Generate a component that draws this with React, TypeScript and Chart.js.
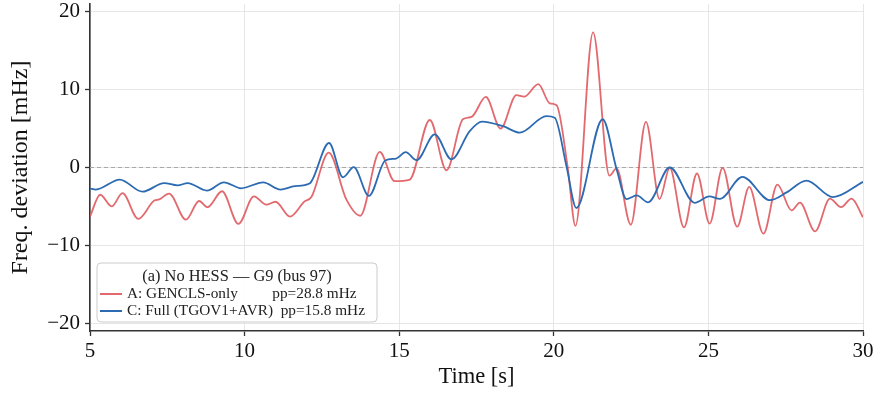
import React, { useEffect, useRef } from "react";
import { Chart, registerables } from "chart.js";

Chart.register(...registerables);

// ---- data ----
const timeA = [5.0, 5.33, 5.7, 6.05, 6.56, 7.08, 7.24, 7.56, 8.1, 8.53, 8.8, 9.27, 9.8, 10.3, 10.7, 11.0, 11.47, 11.94, 12.16, 12.72, 13.29, 13.74, 14.37, 14.85, 15.34, 15.99, 16.53, 17.06, 17.34, 17.8, 18.28, 18.79, 19.04, 19.5, 19.87, 20.09, 20.45, 20.7, 21.27, 21.8, 22.03, 22.49, 22.98, 23.42, 23.75, 24.21, 24.63, 25.04, 25.46, 25.93, 26.32, 26.78, 27.23, 27.69, 27.96, 28.45, 28.93, 29.29, 29.63, 30.0];
const freqA = [-6.3, -3.5, -5.0, -3.3, -6.6, -4.25, -4.1, -3.35, -6.7, -4.3, -5.1, -3.05, -7.25, -3.7, -4.77, -4.4, -6.3, -4.35, -3.8, 1.9, -4.1, -6.2, 2.0, -1.76, -1.55, 6.1, -0.35, 6.2, 6.5, 9.06, 5.0, 9.3, 9.1, 10.7, 8.25, 8.0, 0.0, -7.5, 17.35, -1.05, -0.1, -7.35, 5.85, -4.05, -0.04, -7.7, -0.77, -7.2, -0.04, -7.6, -2.5, -8.5, -2.2, -5.5, -4.5, -8.2, -4.0, -5.1, -4.0, -6.4];

const timeC = [5.0, 5.19, 5.96, 6.7, 7.4, 7.83, 8.16, 8.78, 9.33, 9.89, 10.6, 11.16, 11.62, 12.1, 12.73, 13.18, 13.53, 14.02, 14.55, 14.9, 15.21, 15.56, 16.15, 16.69, 17.28, 17.68, 18.36, 18.9, 19.76, 20.03, 20.41, 20.73, 21.58, 22.03, 22.35, 22.68, 23.05, 23.75, 24.56, 25.03, 25.37, 26.1, 26.99, 27.53, 28.17, 29.03, 30.0];
const freqC = [-2.7, -2.83, -1.55, -3.1, -2.0, -2.3, -2.0, -2.96, -1.9, -2.67, -1.9, -2.83, -2.4, -2.06, 3.15, -1.25, 0.05, -3.65, 0.9, 1.15, 1.97, 0.94, 4.25, 1.05, 4.68, 5.9, 5.3, 4.47, 6.6, 6.4, 0.17, -5.2, 6.2, -0.2, -4.05, -3.58, -4.47, 0.0, -4.55, -3.7, -4.04, -1.2, -4.2, -3.2, -1.68, -3.8, -1.85];

const zeroTimes = [5, 30];
const zeroValues = [0, 0];

const xTicks = [5, 10, 15, 20, 25, 30];
const yTicks = [-20, -10, 0, 10, 20];

const legendTitle = "(a) No HESS \u2014 G9 (bus 97)";
const labelA = "A: GENCLS-only         pp=28.8 mHz";
const labelC = "C: Full (TGOV1+AVR)  pp=15.8 mHz";

const RED = "rgba(224, 92, 98, 0.92)";
const BLUE = "#2c6bb2";
const FONT = "'Liberation Serif', 'Times New Roman', Times, serif";

const toPts = (xs: number[], ys: number[]) => xs.map((x, i) => ({ x, y: ys[i] }));

const legendPlugin = {
  id: "boxLegend",
  afterDraw(chart: any) {
    const { ctx, chartArea } = chart;
    const x = chartArea.left + 7;
    const w = 280;
    const h = 59;
    const y = chartArea.bottom - 9 - h;
    ctx.save();
    ctx.beginPath();
    (ctx as any).roundRect(x, y, w, h, 4);
    ctx.fillStyle = "rgba(255,255,255,0.85)";
    ctx.fill();
    ctx.lineWidth = 1;
    ctx.strokeStyle = "#cccccc";
    ctx.stroke();

    ctx.font = `16.4px ${FONT}`;
    ctx.fillStyle = "#222";
    ctx.textBaseline = "middle";
    ctx.textAlign = "center";
    ctx.fillText(legendTitle, x + w / 2, y + 14);

    const rows = [
      { label: labelA, color: RED },
      { label: labelC, color: BLUE },
    ];
    ctx.font = `15.3px ${FONT}`;
    ctx.textAlign = "left";
    rows.forEach((r, i) => {
      const ry = y + 31 + i * 17;
      ctx.beginPath();
      ctx.strokeStyle = r.color;
      ctx.lineWidth = 2;
      ctx.moveTo(x + 3, ry);
      ctx.lineTo(x + 25, ry);
      ctx.stroke();
      ctx.fillStyle = "#222";
      ctx.fillText(r.label, x + 30, ry);
    });
    ctx.restore();
  },
};

export default function App() {
  const ref = useRef<HTMLCanvasElement | null>(null);

  useEffect(() => {
    if (!ref.current) return;
    const chart = new Chart(ref.current, {
      type: "line",
      data: {
        datasets: [
          {
            label: "zero",
            data: toPts(zeroTimes, zeroValues),
            borderColor: "#a8a8a8",
            borderWidth: 1,
            borderDash: [4, 3],
            pointRadius: 0,
            order: 3,
          },
          {
            label: "A: GENCLS-only",
            data: toPts(timeA, freqA),
            borderColor: RED,
            borderWidth: 1.8,
            pointRadius: 0,
            cubicInterpolationMode: "monotone",
            order: 2,
          },
          {
            label: "C: Full (TGOV1+AVR)",
            data: toPts(timeC, freqC),
            borderColor: BLUE,
            borderWidth: 1.8,
            pointRadius: 0,
            cubicInterpolationMode: "monotone",
            order: 1,
          },
        ],
      },
      options: {
        animation: false,
        responsive: false,
        devicePixelRatio: 1,
        layout: { padding: { top: 4, right: 12, left: 0, bottom: 0 } },
        plugins: {
          legend: { display: false },
          tooltip: { enabled: false },
        },
        scales: {
          x: {
            type: "linear",
            min: 5,
            max: 30,
            afterBuildTicks: (s: any) => {
              s.ticks = xTicks.map((v) => ({ value: v }));
            },
            afterFit: (s: any) => {
              s.height = 63;
              s.paddingLeft = 0;
              s.paddingRight = 0;
            },
            grid: {
              color: "#e6e6e6",
              lineWidth: 1,
              tickColor: "#333",
              tickLength: 5,
              tickWidth: 1.3,
            },
            border: { color: "#333", width: 1.6 },
            ticks: {
              color: "#111",
              font: { family: FONT, size: 21 },
              padding: 3,
              maxRotation: 0,
              callback: (v: any) => String(v),
            },
            title: {
              display: true,
              text: "Time [s]",
              color: "#111",
              font: { family: FONT, size: 22.5 },
              padding: { top: 0, bottom: 3 },
            },
          },
          y: {
            type: "linear",
            min: -21,
            max: 21,
            afterBuildTicks: (s: any) => {
              s.ticks = yTicks.map((v) => ({ value: v }));
            },
            afterFit: (s: any) => {
              s.width = 90;
              s.paddingTop = 0;
              s.paddingBottom = 0;
            },
            grid: {
              color: "#e6e6e6",
              lineWidth: 1,
              tickColor: "#333",
              tickLength: 5,
              tickWidth: 1.3,
            },
            border: { color: "#333", width: 1.6 },
            ticks: {
              color: "#111",
              font: { family: FONT, size: 21 },
              padding: 5,
              callback: (v: any) => String(v).replace("-", "\u2212"),
            },
            title: {
              display: true,
              text: "Freq. deviation [mHz]",
              color: "#111",
              font: { family: FONT, size: 24 },
              padding: { top: 6, bottom: 0 },
            },
          },
        },
      },
      plugins: [legendPlugin],
    } as any);
    return () => chart.destroy();
  }, []);

  return (
    <div style={{ position: "fixed", left: 0, top: 0, width: 875, height: 394, background: "#fff" }}>
      <canvas ref={ref} width={875} height={394} style={{ display: "block" }} />
    </div>
  );
}
